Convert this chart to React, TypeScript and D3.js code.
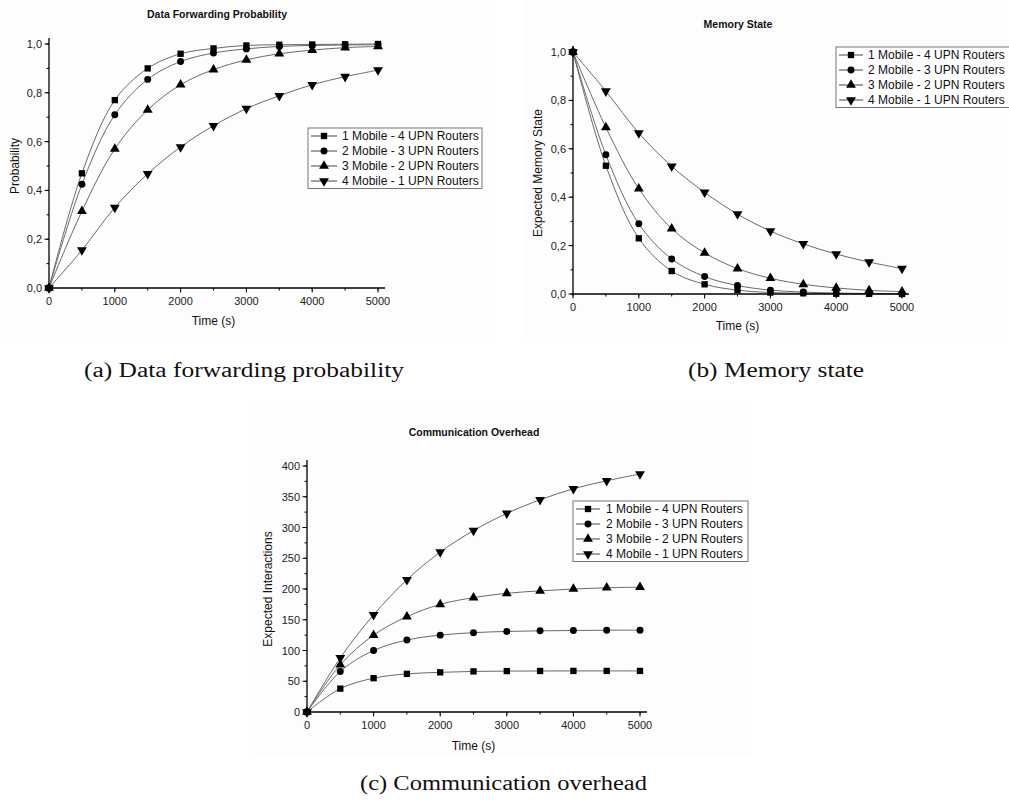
import React from 'react';
import * as d3 from 'd3';

// time axis shared by all panels (s)
const times = [0, 500, 1000, 1500, 2000, 2500, 3000, 3500, 4000, 4500, 5000];
const seriesNames = [
  '1 Mobile - 4 UPN Routers',
  '2 Mobile - 3 UPN Routers',
  '3 Mobile - 2 UPN Routers',
  '4 Mobile - 1 UPN Routers',
];
const markerShapes = ['square', 'circle', 'triangle', 'down'];

// (a) data forwarding probability
const probM1 = [0, 0.47, 0.77, 0.9, 0.96, 0.982, 0.994, 0.997, 0.998, 0.999, 1.0];
const probM2 = [0, 0.425, 0.71, 0.855, 0.928, 0.963, 0.98, 0.99, 0.994, 0.996, 0.997];
const probM3 = [0, 0.315, 0.57, 0.73, 0.833, 0.895, 0.935, 0.96, 0.975, 0.985, 0.99];
const probM4 = [0, 0.155, 0.33, 0.468, 0.578, 0.665, 0.735, 0.788, 0.833, 0.866, 0.893];

// (b) expected memory state
const memM1 = [1.0, 0.53, 0.23, 0.095, 0.04, 0.016, 0.006, 0.003, 0.001, 0.0005, 0.0];
const memM2 = [1.0, 0.575, 0.29, 0.145, 0.072, 0.035, 0.016, 0.008, 0.004, 0.002, 0.001];
const memM3 = [1.0, 0.688, 0.435, 0.27, 0.17, 0.105, 0.065, 0.04, 0.025, 0.015, 0.01];
const memM4 = [1.0, 0.838, 0.665, 0.528, 0.42, 0.33, 0.26, 0.207, 0.165, 0.132, 0.105];

// (c) expected interactions
const ovM1 = [0, 38, 55, 62, 64.5, 66, 66.5, 66.7, 66.8, 66.8, 66.8];
const ovM2 = [0, 66, 100, 117, 125, 129, 131, 132, 132.5, 133, 133];
const ovM3 = [0, 77, 125, 155, 175, 186, 193, 197, 200, 202, 203];
const ovM4 = [0, 88, 158, 215, 260, 295, 323, 345, 363, 376, 387];

const yTicksProb = [0, 0.2, 0.4, 0.6, 0.8, 1.0];
const yTicksOv = [0, 50, 100, 150, 200, 250, 300, 350, 400];
const xTicks = [0, 1000, 2000, 3000, 4000, 5000];

const font = 'Liberation Sans, Arial, sans-serif';
const commaFmt = (v: number) => d3.format('.1f')(v).replace('.', ',');

function Marker({ shape, x, y }: { shape: string; x: number; y: number }) {
  let path: string;
  let rot = 0;
  if (shape === 'square') path = d3.symbol(d3.symbolSquare, 40)()!;
  else if (shape === 'circle') path = d3.symbol(d3.symbolCircle, 38)()!;
  else {
    path = d3.symbol(d3.symbolTriangle, 42)()!;
    if (shape === 'down') rot = 180;
  }
  return <path d={path} transform={`translate(${x},${y}) rotate(${rot})`} fill="#000" />;
}

type PanelProps = {
  title: string;
  titleX: number;
  titleY: number;
  ylabel: string;
  ylabelX: number;
  xlabelY: number;
  x0: number;
  x1: number;
  y0: number;
  y1: number;
  yMax: number;
  yTicks: number[];
  yMinorStep: number;
  yFmt: (v: number) => string;
  series: number[][];
  legend: { x: number; y: number; w: number; row: number; mark: number; text: number };
};

function Panel(p: PanelProps) {
  const x = d3.scaleLinear().domain([0, 5000]).range([p.x0, p.x1]);
  const y = d3.scaleLinear().domain([0, p.yMax]).range([p.y0, p.y1]);
  const line = d3
    .line<number>()
    .x((_, i) => x(times[i]))
    .y((d) => y(d))
    .curve(d3.curveCatmullRom.alpha(0.5));
  const yMinor = d3.range(0, p.yMax + 1e-9, p.yMinorStep);
  const xMinor = d3.range(0, 5001, 500);
  const axisTop = y(p.yMax) - 6;
  const axisRight = x(5000) + 7;
  const lg = p.legend;

  return (
    <g fontFamily={font}>
      <text x={p.titleX} y={p.titleY} fontSize={10.5} fontWeight="bold" textAnchor="middle" fill="#111">
        {p.title}
      </text>
      {p.series.map((s, i) => (
        <path key={i} d={line(s)!} fill="none" stroke="#6a6a6a" strokeWidth={1} />
      ))}
      {p.series.map((s, i) =>
        s.map((v, j) => <Marker key={`${i}-${j}`} shape={markerShapes[i]} x={x(times[j])} y={y(v)} />)
      )}
      {/* axes */}
      <line x1={x(0)} x2={x(0)} y1={axisTop} y2={y(0)} stroke="#000" strokeWidth={1.3} />
      <line x1={x(0)} x2={axisRight} y1={y(0)} y2={y(0)} stroke="#000" strokeWidth={1.3} />
      {yMinor.map((t) => (
        <line key={`ym${t}`} x1={x(0) - 2.5} x2={x(0)} y1={y(t)} y2={y(t)} stroke="#000" strokeWidth={1} />
      ))}
      {p.yTicks.map((t) => (
        <g key={`y${t}`}>
          <line x1={x(0) - 4.5} x2={x(0)} y1={y(t)} y2={y(t)} stroke="#000" strokeWidth={1} />
          <text x={x(0) - 7} y={y(t) + 4} fontSize={11} textAnchor="end" fill="#222">
            {p.yFmt(t)}
          </text>
        </g>
      ))}
      {xMinor.map((t) => (
        <line key={`xm${t}`} x1={x(t)} x2={x(t)} y1={y(0)} y2={y(0) + 2.5} stroke="#000" strokeWidth={1} />
      ))}
      {xTicks.map((t) => (
        <g key={`x${t}`}>
          <line x1={x(t)} x2={x(t)} y1={y(0)} y2={y(0) + 4.5} stroke="#000" strokeWidth={1} />
          <text x={x(t)} y={y(0) + 17} fontSize={11} textAnchor="middle" fill="#222">
            {t}
          </text>
        </g>
      ))}
      <text x={(x(0) + x(5000)) / 2} y={p.xlabelY} fontSize={12} textAnchor="middle" fill="#111">
        Time (s)
      </text>
      <text
        transform={`translate(${p.ylabelX},${(y(0) + y(p.yMax)) / 2}) rotate(-90)`}
        fontSize={12}
        textAnchor="middle"
        fill="#111"
      >
        {p.ylabel}
      </text>
      {/* legend */}
      <rect x={lg.x} y={lg.y} width={lg.w} height={lg.row * 4 + 0.5} fill="#fff" stroke="#777" strokeWidth={1} />
      {seriesNames.map((n, i) => {
        const cy = lg.y + lg.row * (i + 0.5) + 0.5;
        return (
          <g key={n}>
            <line x1={lg.x + 3} x2={lg.x + lg.mark * 2 - 3} y1={cy} y2={cy} stroke="#444" strokeWidth={1} />
            <Marker shape={markerShapes[i]} x={lg.x + lg.mark} y={cy} />
            <text x={lg.x + lg.text} y={cy + 4.3} fontSize={12} fill="#111">
              {n}
            </text>
          </g>
        );
      })}
    </g>
  );
}

export default function App() {
  return (
    <svg
      width={1009}
      height={800}
      style={{ position: 'absolute', left: 0, top: 0, background: '#fff' }}
    >
      <rect x={0} y={0} width={490} height={337} fill="#fdfdfd" />
      <rect x={523} y={0} width={486} height={337} fill="#fdfdfd" />
      <rect x={255} y={406} width={497} height={351} fill="#fdfdfd" />
      <Panel
        title="Data Forwarding Probability"
        titleX={217}
        titleY={18}
        ylabel="Probability"
        ylabelX={19}
        xlabelY={325}
        x0={49}
        x1={378}
        y0={288}
        y1={44}
        yMax={1.0}
        yTicks={yTicksProb}
        yMinorStep={0.1}
        yFmt={commaFmt}
        series={[probM1, probM2, probM3, probM4]}
        legend={{ x: 308, y: 128, w: 174, row: 15, mark: 16, text: 34 }}
      />
      <Panel
        title="Memory State"
        titleX={738}
        titleY={28}
        ylabel="Expected Memory State"
        ylabelX={542}
        xlabelY={330}
        x0={573}
        x1={902}
        y0={294}
        y1={52}
        yMax={1.0}
        yTicks={yTicksProb}
        yMinorStep={0.1}
        yFmt={commaFmt}
        series={[memM1, memM2, memM3, memM4]}
        legend={{ x: 836, y: 47, w: 180, row: 15, mark: 15, text: 32 }}
      />
      <Panel
        title="Communication Overhead"
        titleX={474}
        titleY={436}
        ylabel="Expected Interactions"
        ylabelX={272}
        xlabelY={750}
        x0={307}
        x1={640}
        y0={712}
        y1={466}
        yMax={400}
        yTicks={yTicksOv}
        yMinorStep={25}
        yFmt={(v) => String(v)}
        series={[ovM1, ovM2, ovM3, ovM4]}
        legend={{ x: 573, y: 501, w: 175, row: 15, mark: 15, text: 33 }}
      />
      <g fontFamily="Liberation Serif, Times New Roman, serif" fontSize={20} fill="#111">
        <text x={84} y={377} textLength={320} lengthAdjust="spacingAndGlyphs">
          (a) Data forwarding probability
        </text>
        <text x={688} y={377} textLength={176} lengthAdjust="spacingAndGlyphs">
          (b) Memory state
        </text>
        <text x={360} y={790} textLength={287} lengthAdjust="spacingAndGlyphs">
          (c) Communication overhead
        </text>
      </g>
    </svg>
  );
}
